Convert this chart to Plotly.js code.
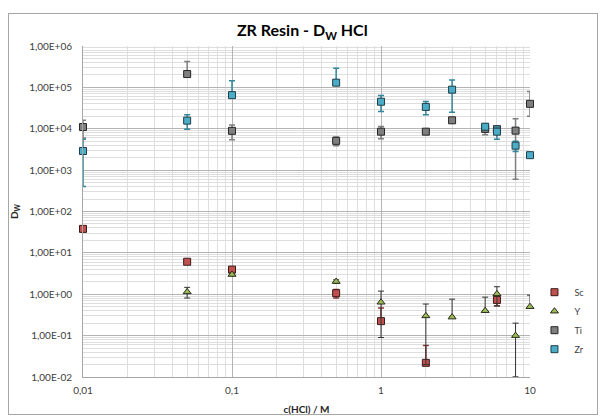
<!DOCTYPE html>
<html>
<head>
<meta charset="utf-8">
<script src="https://cdn.plot.ly/plotly-3.0.1.min.js"></script>
<style>
html,body{margin:0;padding:0;background:#fff;}
#wrap{position:relative;width:601px;height:419px;}
#chart{position:absolute;left:0;top:0;width:601px;height:419px;}
#frame{position:absolute;left:8px;top:13px;width:588px;height:400px;border:1px solid #a6a6a6;pointer-events:none;}
</style>
</head>
<body>
<div id="wrap"><div id="chart"></div><div id="frame"></div></div>
<script>
// Concentrations c(HCl) / M
var scX = [0.01, 0.05, 0.1, 0.5, 1, 2, 6];
var scY = [38, 6.1, 3.95, 1.06, 0.224, 0.022, 0.73];
var scErrPlus = [0, 0.3, 0.3, 0.25, 0.24, 0.036, 0.22];
var scErrMinus = [0, 0.3, 0.3, 0.25, 0, 0, 0.2];

var yX = [0.05, 0.1, 0.5, 1, 2, 3, 5, 6, 8, 10];
var yY = [1.14, 3.0, 2.03, 0.64, 0.3, 0.28, 0.40, 1.02, 0.1, 0.5];
var yErrPlus = [0.33, 0.2, 0.2, 0.55, 0.28, 0.48, 0.45, 0.5, 0.1, 0.45];
var yErrMinus = [0.33, 0.2, 0.2, 0.55, 0.28, 0, 0, 0.5, 0.0899, 0];

var tiX = [0.01, 0.05, 0.1, 0.5, 1, 2, 3, 5, 6, 8, 10];
var tiY = [11000, 210000, 8900, 5100, 8500, 8500, 16000, 9900, 9800, 9000, 40000];
var tiErrPlus = [5000, 210000, 3500, 1200, 2800, 600, 500, 3400, 800, 8400, 40000];
var tiErrMinus = [5000, 0, 3500, 1200, 2800, 600, 500, 2700, 800, 8400, 20000];

var zrX = [0.01, 0.05, 0.1, 0.5, 1, 2, 3, 5, 6, 8, 10];
var zrY = [2900, 15700, 65000, 130000, 45000, 33700, 88000, 11200, 8500, 3900, 2300];
var zrErrPlus = [2700, 6000, 80000, 160000, 19000, 12000, 63000, 1500, 2900, 1100, 200];
var zrErrMinus = [2500, 6000, 0, 0, 19000, 12000, 63000, 1500, 2900, 1100, 200];

var yTickVals = [1e-2, 1e-1, 1, 10, 100, 1000, 1e4, 1e5, 1e6];
var yTickText = ['1,00E-02', '1,00E-01', '1,00E+00', '1,00E+01', '1,00E+02', '1,00E+03', '1,00E+04', '1,00E+05', '1,00E+06'];
var xTickVals = [0.01, 0.1, 1, 10];
var xTickText = ['0,01', '0,1', '1', '10'];

var FONT = 'Lato, "Open Sans", sans-serif';

function trace(name, x, y, plus, minus, symbol, fill, line, errColor, errThick) {
  return {
    type: 'scatter', mode: 'markers', name: name, x: x, y: y, cliponaxis: false,
    marker: {symbol: symbol, size: 7, color: fill, line: {color: line, width: 1}},
    error_y: {type: 'data', symmetric: false, array: plus, arrayminus: minus,
              color: errColor, thickness: errThick, width: 3}
  };
}

var data = [
  trace('Sc', scX, scY, scErrPlus, scErrMinus, 'square', '#c0504d', '#3b1a1a', '#8c3a38', 1.5),
  trace('Y', yX, yY, yErrPlus, yErrMinus, 'triangle-up', '#9bbb59', '#2a2a1a', '#333333', 1),
  trace('Ti', tiX, tiY, tiErrPlus, tiErrMinus, 'square', '#7f7f7f', '#262626', '#7f7f7f', 1.5),
  trace('Zr', zrX, zrY, zrErrPlus, zrErrMinus, 'square', '#4bacc6', '#1f3f4a', '#31859c', 1.5)
];

var layout = {
  width: 601, height: 419,
  margin: {l: 83, r: 44, t: 46, b: 41.5, pad: 0},
  paper_bgcolor: '#ffffff', plot_bgcolor: '#ffffff',
  font: {family: FONT, size: 10, color: '#404040'},
  showlegend: true,
  legend: {x: 1.01, y: 0.30, xanchor: 'left', yanchor: 'top',
           font: {family: FONT, size: 9, color: '#404040'},
           bgcolor: 'rgba(0,0,0,0)', tracegroupgap: 0, itemwidth: 30},
  title: {text: '<b>ZR Resin - D<sub>W</sub> HCl</b>', x: 0.503, xref: 'container', xanchor: 'center',
          y: 0.927, yref: 'container', yanchor: 'middle',
          font: {family: FONT, size: 16, color: '#000000'}},
  xaxis: {type: 'log', range: [-2, 1], tickvals: xTickVals, ticktext: xTickText,
          showgrid: true, gridcolor: '#b4b4b4', gridwidth: 1,
          minor: {showgrid: true, gridcolor: '#dedede', gridwidth: 1, dtick: 'D1'},
          showline: true, linecolor: '#a6a6a6', linewidth: 1, zeroline: false,
          ticks: '', ticklabelstandoff: 4, tickfont: {family: FONT, size: 10, color: '#404040'},
          title: {text: '<b>c(HCl) / M</b>', standoff: 10, font: {family: FONT, size: 10, color: '#262626'}}},
  yaxis: {type: 'log', range: [-2, 6], tickvals: yTickVals, ticktext: yTickText,
          showgrid: true, gridcolor: '#b4b4b4', gridwidth: 1,
          minor: {showgrid: true, gridcolor: '#dedede', gridwidth: 1, dtick: 'D1'},
          showline: true, linecolor: '#a6a6a6', linewidth: 1, zeroline: false,
          ticks: '', ticklen: 0, ticklabelstandoff: 8, tickfont: {family: FONT, size: 10, color: '#404040'},
          title: {text: '<b>D<sub>W</sub></b>', standoff: 8, font: {family: FONT, size: 10, color: '#262626'}}}
};

Plotly.newPlot('chart', data, layout, {displayModeBar: false, staticPlot: true}).then(function (gd) {
  // let error bars at the axis edge show fully, like the markers
  gd.querySelectorAll('g.errorbars').forEach(function (g) {
    var el = g;
    while (el && el !== gd && !(el.classList && el.classList.contains('plot'))) {
      if (el.hasAttribute && el.hasAttribute('clip-path')) el.removeAttribute('clip-path');
      el = el.parentNode;
    }
  });
});
</script>
</body>
</html>
